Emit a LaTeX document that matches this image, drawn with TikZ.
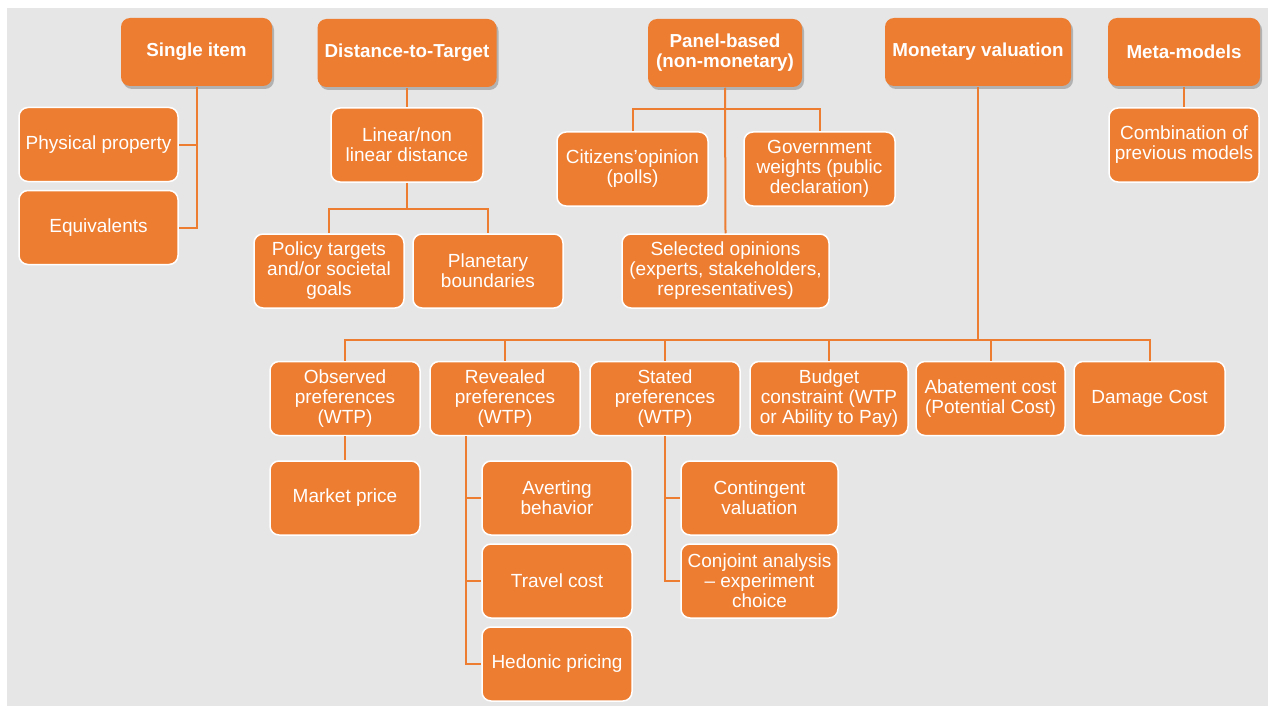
\documentclass[tikz,border=0pt]{standalone}
\usepackage{fontspec}
\setmainfont{Liberation Sans}
\usetikzlibrary{shadows,calc}
\definecolor{orng}{HTML}{ED7D31}
\definecolor{bgc}{HTML}{E7E6E6}
\tikzset{
  box/.style={rectangle, rounded corners=9pt, fill=orng, draw=white, line width=1.5pt,
    text=white, align=center, font=\fontsize{19}{20}\selectfont, inner sep=2pt,
    minimum width=150pt, minimum height=74pt},
  topbox/.style={box, draw=none, font=\fontsize{18.8}{20}\selectfont\bfseries, minimum height=68pt,
    drop shadow={opacity=0.5, shadow xshift=2pt, shadow yshift=-3pt}},
  link/.style={draw=orng, line width=2pt},
}
\begin{document}
\begin{tikzpicture}[x=1pt,y=-1pt]
\useasboundingbox (0,0) rectangle (1268,706);
\fill[white] (0,0) rectangle (1268,706);
\fill[bgc] (7,8) rectangle (1268,706);

% top level
\node[topbox, minimum width=151pt] (single) at (196.5,52) {Single item};
\node[topbox, minimum width=179pt] (dtt) at (407,53) {Distance-to-Target};
\node[topbox, minimum width=154pt] (panel) at (725,53) {Panel-based\\(non-monetary)};
\node[topbox, minimum width=186pt] (money) at (978,52) {Monetary valuation};
\node[topbox, minimum width=152pt] (meta) at (1184,52) {Meta-models};

% second level
\node[box, minimum width=159pt] (phys) at (98.5,144.5) {Physical property};
\node[box, minimum width=159pt] (equiv) at (98.5,227.5) {Equivalents};
\node[box, minimum width=152pt] (linear) at (407,145) {Linear/non\\linear distance};
\node[box] (policy) at (329,271) {Policy targets\\and/or societal\\goals};
\node[box] (planet) at (488,271) {Planetary\\boundaries};
\node[box, minimum width=151pt] (citizens) at (632.5,169) {Citizens'opinion\\(polls)};
\node[box, minimum width=151pt] (govt) at (819.5,169) {Government\\weights (public\\declaration)};
\node[box, minimum width=207pt] (selected) at (725.5,271) {Selected opinions\\(experts, stakeholders,\\representatives)};
\node[box] (combo) at (1184,145) {Combination of\\previous models};

% third level
\node[box] (obs) at (345,398.5) {Observed\\preferences\\(WTP)};
\node[box] (rev) at (505,398.5) {Revealed\\preferences\\(WTP)};
\node[box] (stated) at (665,398.5) {Stated\\preferences\\(WTP)};
\node[box, minimum width=158pt] (budget) at (829,398.5) {Budget\\constraint (WTP\\or Ability to Pay)};
\node[box, minimum width=149pt] (abate) at (990.5,398.5) {Abatement cost\\(Potential Cost)};
\node[box, minimum width=151pt] (damage) at (1149.5,398.5) {Damage Cost};

% fourth level
\node[box] (market) at (345,498) {Market price};
\node[box] (avert) at (557,498) {Averting\\behavior};
\node[box] (travel) at (557,581) {Travel cost};
\node[box] (hedonic) at (557,664) {Hedonic pricing};
\node[box, minimum width=157pt] (conting) at (759.5,498) {Contingent\\valuation};
\node[box, minimum width=157pt] (conjoint) at (759.5,581) {Conjoint analysis\\-- experiment\\choice};

% connectors
\draw[link] (single.south) |- (phys.east);
\draw[link] (single.south) |- (equiv.east);
\draw[link] (dtt.south) -- (linear.north);
\coordinate (dbus) at ($(linear.south)+(0,26)$);
\draw[link] (linear.south) -- (dbus) -| (policy.north);
\draw[link] (dbus) -| (planet.north);
\draw[link] (panel.south) -- (selected.north);
\draw[link] (citizens.north) -- ++(0,-22) -| (govt.north);
\draw[link] (meta.south) -- (combo.north);
\coordinate (mbus) at (978,340);
\draw[link] (money.south) -- (mbus);
\foreach \n in {obs,rev,stated,budget,abate,damage}{
  \draw[link] (mbus) -| (\n.north);
}
\draw[link] (obs.south) -- (market.north);
\coordinate (rtrunk) at ($(rev.south)+(-39,0)$);
\draw[link] (rtrunk) |- (avert.west);
\draw[link] (rtrunk) |- (travel.west);
\draw[link] (rtrunk) |- (hedonic.west);
\draw[link] (stated.south) |- (conting.west);
\draw[link] (stated.south) |- (conjoint.west);
\end{tikzpicture}
\end{document}
